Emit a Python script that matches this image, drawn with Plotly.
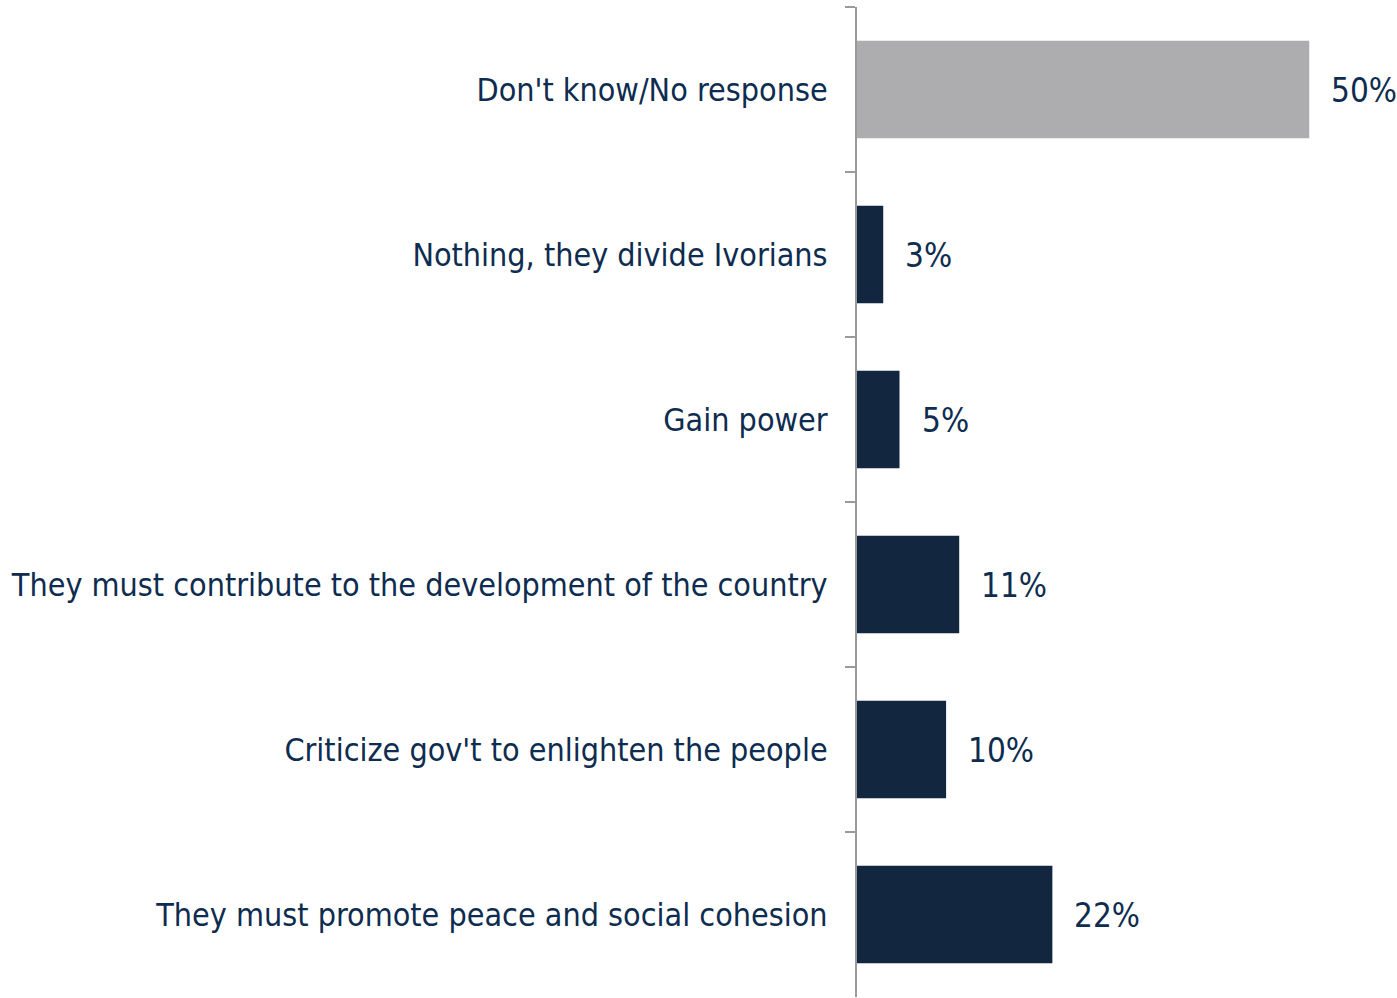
import plotly.graph_objects as go

categories = [
    "Don't know/No response",
    "Nothing, they divide Ivorians",
    "Gain power",
    "They must contribute to the development of the country",
    "Criticize gov't to enlighten the people",
    "They must promote peace and social cohesion",
]
# bar lengths; labels as printed
values = [50, 2.9, 4.7, 11.3, 9.85, 21.6]
value_labels = ["50%", "3%", "5%", "11%", "10%", "22%"]
bar_colors = ["#ADADAF", "#12263F", "#12263F", "#12263F", "#12263F", "#12263F"]

FONT = "DejaVu Sans Condensed"
TEXT_COLOR = "#0E2C4F"

fig = go.Figure(
    go.Bar(
        x=values,
        y=categories,
        orientation="h",
        marker=dict(color=bar_colors, line=dict(width=0)),
        hoverinfo="skip",
    )
)

for cat, v, lab in zip(categories, values, value_labels):
    fig.add_annotation(
        x=v, y=cat, xref="x", yref="y",
        text=lab, showarrow=False,
        xanchor="left", yanchor="middle",
        xshift=20, yshift=-1,
        font=dict(family=FONT, size=33, color=TEXT_COLOR),
    )

fig.update_layout(
    width=1397,
    height=998,
    margin=dict(l=857, r=0, t=7, b=1),
    paper_bgcolor="white",
    plot_bgcolor="white",
    bargap=0.41,
    showlegend=False,
    font=dict(family=FONT, color=TEXT_COLOR),
)
fig.update_xaxes(
    range=[0, 59.7],
    visible=False,
    showgrid=False,
    zeroline=False,
)
fig.update_yaxes(
    autorange="reversed",
    showline=True,
    linecolor="#9A9A9A",
    linewidth=2,
    ticks="outside",
    tickson="boundaries",
    ticklen=10,
    tickwidth=2,
    tickcolor="#9A9A9A",
    tickfont=dict(family=FONT, size=32, color=TEXT_COLOR),
    ticklabelstandoff=21,
    showgrid=False,
    automargin=False,
)

fig.write_html(
    "out.html",
    config={"displayModeBar": False},
    post_script="document.body.style.margin='0';document.body.style.padding='0';",
)
